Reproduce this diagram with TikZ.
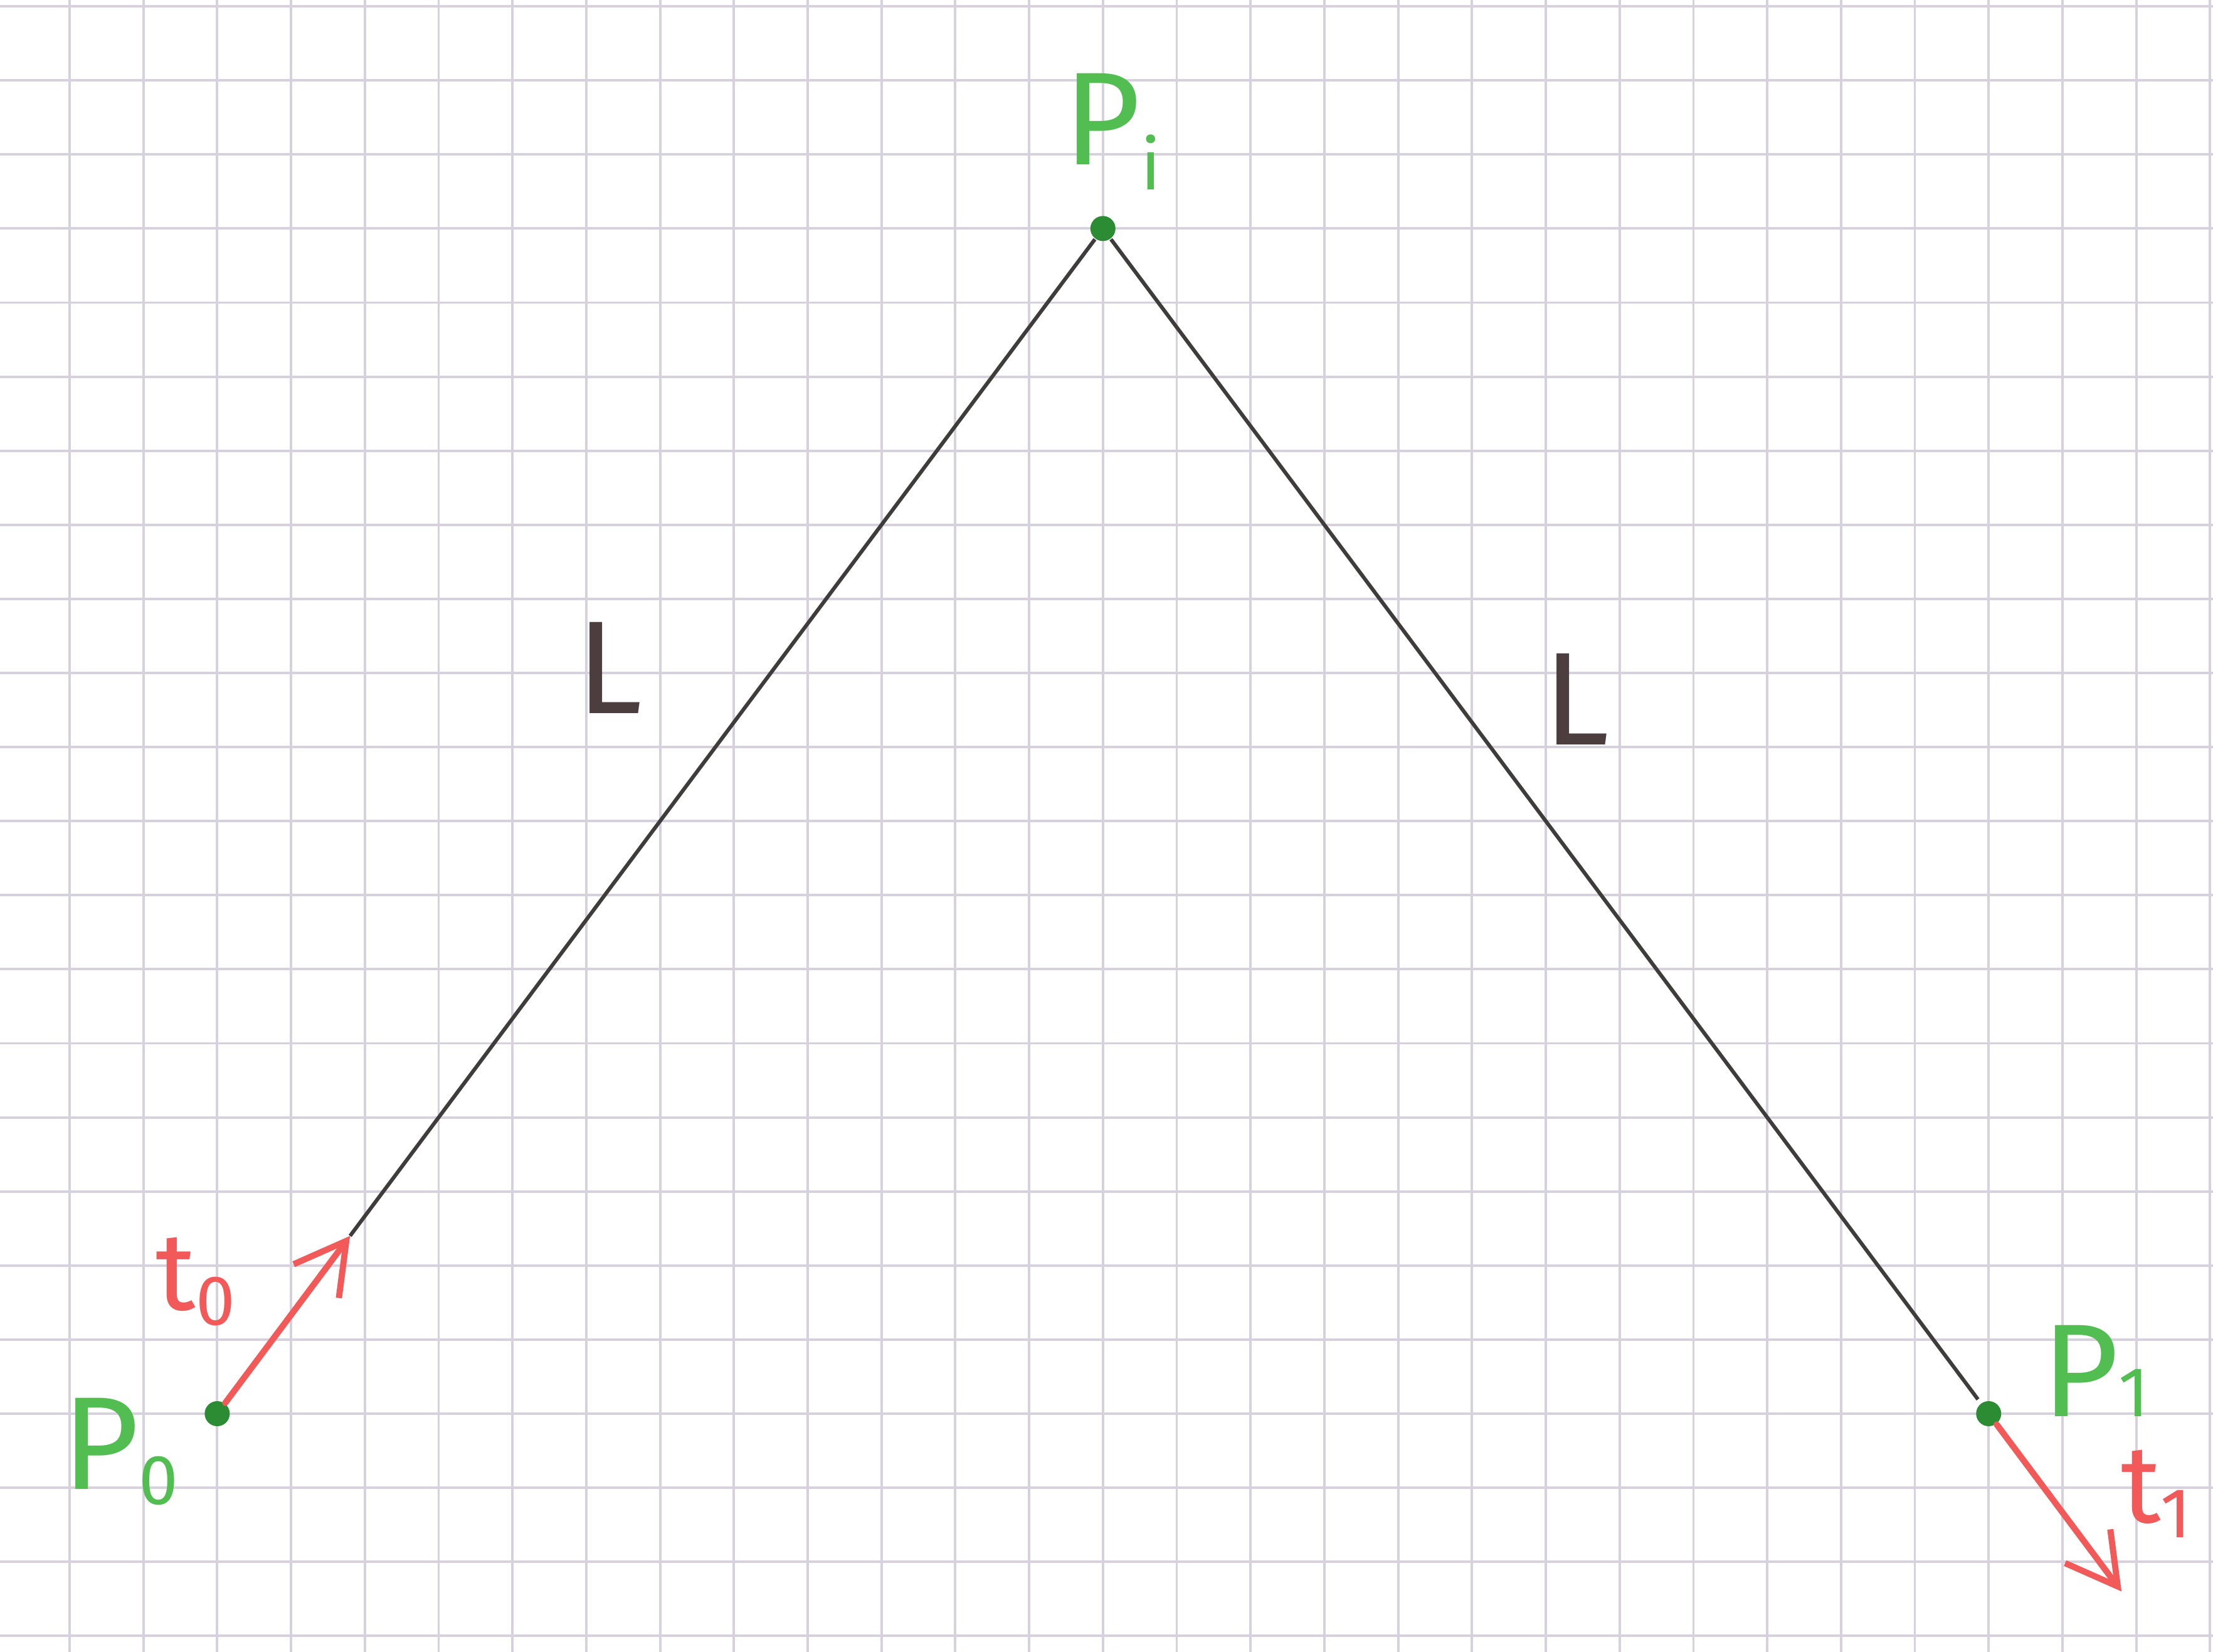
\documentclass[tikz,border=0pt]{standalone}
\usepackage{fontspec}
\setmainfont{Fira Sans}
\usepackage{xcolor}
\usetikzlibrary{arrows.meta}

\definecolor{gridgray}{RGB}{214,209,220}
\definecolor{dotgreen}{RGB}{44,140,52}
\definecolor{lblgreen}{RGB}{82,190,82}
\definecolor{vecred}{RGB}{242,90,90}
\definecolor{penblack}{RGB}{64,60,60}
\definecolor{inkbrown}{RGB}{76,62,62}

\newcommand{\hsub}[3][-0.12cm]{#2{\fontsize{16}{16}\selectfont\raisebox{#1}{#3}}}

\begin{document}
\begin{tikzpicture}[x=0.5885cm, y=-0.5905cm,
  font=\fontsize{30}{30}\selectfont,
  gridline/.style={draw=gridgray, line width=0.55pt},
  pt/.style={circle, fill=dotgreen, inner sep=0pt, minimum size=2mm},
  ptlabel/.style={text=lblgreen, anchor=base west, inner sep=0pt},
  veclabel/.style={text=vecred, anchor=base west, inner sep=0pt,
    font=\fontsize{25}{25}\selectfont},
  seglabel/.style={text=inkbrown, anchor=base west, inner sep=0pt},
  seg/.style={draw=penblack, line width=0.85pt},
  tvec/.style={draw=vecred, line width=1.4pt, line cap=round,
    -{Straight Barb[length=4mm, width=4.5mm]}}]
  \fill[white, use as bounding box] (-0.943,-0.085) rectangle (29.04,22.21);
  \clip (-0.943,-0.085) rectangle (29.04,22.21);
  % squared paper
  \foreach \i in {0,...,29}
    \draw[gridline] (\i,-0.2) -- (\i,22.4);
  \foreach \j in {0,...,22}
    \draw[gridline] (-1,\j) -- (29.2,\j);
  % points
  \node[pt] (p0) at (2,19) {};
  \node[pt] (pi) at (14,3) {};
  \node[pt] (p1) at (26,19) {};
  \coordinate (t0tip) at (3.8,16.6);
  \coordinate (t1tip) at (27.8,21.4);
  % legs and tangents
  \draw[seg] (pi) -- (t0tip);
  \draw[seg, shorten >=1pt] (pi) -- (p1);
  \draw[tvec] (p0) -- (t0tip);
  \draw[tvec] (p1) -- (t1tip);
  % labels
  \node[ptlabel] (lpi) at (13.46,2.14) {\hsub[-0.2cm]{P}{i}};
  \node[ptlabel] (lp0) at (-0.11,20.02) {\hsub{P}{0}};
  \node[ptlabel] (lp1) at (26.71,19.04) {\hsub[0cm]{P}{1}};
  \node[veclabel] (lt0) at (1.16,17.6) {\hsub{t}{0}};
  \node[veclabel] (lt1) at (27.78,20.47) {\hsub{t}{1}};
  \node[seglabel] (lleft) at (6.86,9.55) {L};
  \node[seglabel] (lright) at (19.96,9.97) {L};
\end{tikzpicture}
\end{document}
